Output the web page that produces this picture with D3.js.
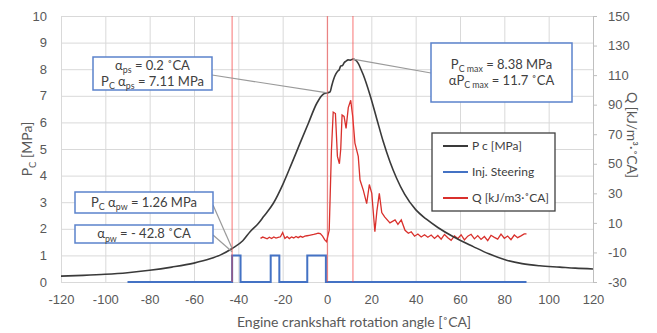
<!DOCTYPE html>
<html>
<head>
<meta charset="utf-8">
<script src="https://cdn.jsdelivr.net/npm/d3@7"></script>
<style>
  body { margin: 0; background: #fff; }
  svg { display: block; font-family: Lato, "Liberation Sans", sans-serif; }
</style>
</head>
<body>
<div id="chart"></div>
<script>
// axis ticks
const angleTicks = [-120, -100, -80, -60, -40, -20, 0, 20, 40, 60, 80, 100, 120];
const pressureTicks = [0, 1, 2, 3, 4, 5, 6, 7, 8, 9, 10];
const heatTicks = [-30, -10, 10, 30, 50, 70, 90, 110, 130, 150];

// cylinder pressure P c [MPa]
const pressureAngle = [-120, -110, -100, -90, -80, -70, -60, -52.8, -48, -42.8, -38, -34.7, -31, -28.7, -24.2, -19.7,
  -15.9, -12.2, -8.4, -4.6, -1.7, 0.2, 1.4, 2.2, 3, 4, 4.8, 5.5, 6.2, 7, 7.8, 8.6, 9.5, 10.5, 11.7, 12.8, 14.1, 15.3,
  16.4, 19.4, 22.4, 25.4, 28.4, 31.4, 35, 40, 45, 50, 57, 66, 73, 81, 88, 96, 105, 112, 120];
const pressureValue = [0.22, 0.25, 0.29, 0.35, 0.44, 0.56, 0.71, 0.87, 1.02, 1.26, 1.55, 1.89, 2.2, 2.45, 2.96, 3.71,
  4.46, 5.21, 5.97, 6.72, 7.06, 7.11, 7.15, 7.4, 7.62, 7.82, 7.92, 7.98, 8.12, 8.14, 8.25, 8.3, 8.35, 8.34, 8.38, 8.35, 8.22, 8.0,
  7.78, 7.03, 6.15, 5.27, 4.52, 3.9, 3.3, 2.72, 2.35, 2.05, 1.7, 1.33, 1.06, 0.82, 0.69, 0.61, 0.56, 0.52, 0.49];

// injection steering signal (0 / 1)
const steeringAngle = [-90, -42.8, -39, -25.4, -21.5, -8.9, -0.5, 90];
const steeringValue = [0, 1, 0, 1, 0, 1, 0, 0];

// heat release rate Q [kJ/m3·˚CA]
const heatAngle = [-30, -29, -28, -27, -26, -25, -24, -23, -22, -21, -20, -19, -18, -17, -16, -15, -14, -13, -12, -11,
  -10, -9, -8, -7, -6, -5, -4, -3, -2, -1, -0.2, 1, 2, 2.8, 3.8, 4.7, 5.6, 6.2, 6.8, 7.7, 8.6, 9.6, 10.7, 11.6, 12.6,
  14.1, 14.9, 16.4, 17.9, 19.1, 20.2, 21.6, 22.5, 23.6, 24.7, 26, 28.4, 30.7, 32, 33.5, 35.2, 36.7, 38, 39.5, 41, 42.5,
  44, 45.5, 47, 48.5, 50, 51.5, 53, 54.5, 56, 57.5, 59, 60.5, 62, 63.5, 65, 66.5, 68, 69.5, 71, 72.5, 74, 75.5, 77,
  78.5, 80, 81.5, 83, 84.5, 86, 87.5, 89, 90];
const heatValue = [-0.5, 0.4, -0.2, -0.8, 0.3, -0.6, 0.5, -0.3, 0.2, 0.6, 3.5, -0.5, 0.7, -0.6, 0.5, -0.2, 0.8, 0.0,
  0.9, 0.3, 1.0, 1.3, 1.6, 1.9, 2.2, 2.6, 3.0, 2.8, 1.0, -1.5, -2.7, 5, 59, 85, 84, 55, 50, 60, 83, 82, 74, 88, 93, 82,
  64, 55, 39, 32, 23, 36, 30, 4, 18, 30, 17, 14, 10, 12, 9, 12, 5, 3, 4, 1, 2.5, 0.5, 2, 0.3, 1.8, -0.5, 1.5, -1, 2.2,
  0, -1.8, 1.2, -0.6, 2, -1.5, 1, 2.3, -0.8, 1.4, -1.2, 0.8, -2, 1.6, 0.2, -1, 2.4, -0.4, 1.1, -1.4, 1.8, 0, 1.2, 2.5, 2.6];

// marked angles (vertical red lines)
const markerAngles = [-42.8, 0.2, 11.7];

const width = 657, height = 333;
const margin = { top: 16, right: 64, bottom: 51, left: 61 };

const svg = d3.select('#chart').append('svg')
  .attr('width', width)
  .attr('height', height);

const x = d3.scaleLinear().domain([-120, 120]).range([margin.left, width - margin.right]);
const yP = d3.scaleLinear().domain([0, 10]).range([height - margin.bottom, margin.top]);
const yQ = d3.scaleLinear().domain([-30, 150]).range([height - margin.bottom, margin.top]);

const textColor = '#595959';
const gridColor = '#d9d9d9';
const plain = d => String(d);

// gridlines
svg.append('g')
  .attr('transform', `translate(0,${height - margin.bottom})`)
  .call(d3.axisBottom(x).tickValues(angleTicks).tickSize(-(height - margin.top - margin.bottom)).tickFormat(''))
  .call(g => g.select('.domain').remove())
  .call(g => g.selectAll('.tick line').attr('stroke', gridColor));

svg.append('g')
  .attr('transform', `translate(${margin.left},0)`)
  .call(d3.axisLeft(yP).tickValues(pressureTicks).tickSize(-(width - margin.left - margin.right)).tickFormat(''))
  .call(g => g.select('.domain').remove())
  .call(g => g.selectAll('.tick line').attr('stroke', gridColor));

// axis labels
svg.append('g')
  .attr('transform', `translate(0,${height - margin.bottom})`)
  .call(d3.axisBottom(x).tickValues(angleTicks).tickSize(0).tickPadding(13).tickFormat(plain))
  .call(g => g.select('.domain').remove())
  .call(g => g.selectAll('text').attr('fill', textColor).style('font-size', '13px'));

svg.append('g')
  .attr('transform', `translate(${margin.left},0)`)
  .call(d3.axisLeft(yP).tickValues(pressureTicks).tickSize(0).tickPadding(14).tickFormat(plain))
  .call(g => g.select('.domain').remove())
  .call(g => g.selectAll('text').attr('fill', textColor).style('font-size', '13px'));

svg.append('g')
  .attr('transform', `translate(${width - margin.right},0)`)
  .call(d3.axisRight(yQ).tickValues(heatTicks).tickSize(4).tickPadding(11).tickFormat(plain))
  .call(g => g.select('.domain').attr('stroke', '#bfbfbf'))
  .call(g => g.selectAll('.tick line').attr('stroke', '#bfbfbf'))
  .call(g => g.selectAll('text').attr('fill', textColor).style('font-size', '13px'));

// text with subscripts: parts given as [str] are drawn as subscript
function richLine(sel, parts, size) {
  let down = false;
  parts.forEach(p => {
    const isSub = Array.isArray(p);
    const t = sel.append('tspan').text(isSub ? p[0] : p);
    if (isSub) {
      t.style('font-size', (size * 0.68) + 'px');
      if (!down) { t.attr('dy', size * 0.28); down = true; }
    } else if (down) {
      t.attr('dy', -size * 0.28); down = false;
    }
  });
  return sel;
}

// axis titles
richLine(svg.append('text')
  .attr('transform', `translate(32,${(margin.top + height - margin.bottom) / 2}) rotate(-90)`)
  .attr('text-anchor', 'middle')
  .attr('fill', textColor)
  .style('font-size', '14px'), ['P', ['C'], ' [MPa]'], 14);

svg.append('text')
  .attr('transform', `translate(627,135) rotate(90)`)
  .attr('text-anchor', 'middle')
  .attr('fill', textColor)
  .style('font-size', '14px')
  .text('Q [kJ/m³·˚CA]');

svg.append('text')
  .attr('x', 354)
  .attr('y', 327)
  .attr('text-anchor', 'middle')
  .attr('fill', textColor)
  .style('font-size', '14px')
  .text('Engine crankshaft rotation angle [˚CA]');

// series
const pressure = pressureAngle.map((a, i) => [a, pressureValue[i]]);
const steering = steeringAngle.map((a, i) => [a, steeringValue[i]]);
const heat = heatAngle.map((a, i) => [a, heatValue[i]]);

svg.append('path')
  .datum(steering)
  .attr('fill', 'none')
  .attr('stroke', '#4472c4')
  .attr('stroke-width', 2)
  .attr('d', d3.line().x(d => x(d[0])).y(d => yP(d[1])).curve(d3.curveStepAfter));

svg.append('path')
  .datum(heat)
  .attr('fill', 'none')
  .attr('stroke', '#d9302c')
  .attr('stroke-width', 1.3)
  .attr('d', d3.line().x(d => x(d[0])).y(d => yQ(d[1])));

svg.append('path')
  .datum(pressure)
  .attr('fill', 'none')
  .attr('stroke', '#3a3a3a')
  .attr('stroke-width', 1.6)
  .attr('d', d3.line().x(d => x(d[0])).y(d => yP(d[1])).curve(d3.curveMonotoneX));

svg.selectAll('.marker')
  .data(markerAngles)
  .enter()
  .append('line')
  .attr('x1', d => x(d)).attr('x2', d => x(d))
  .attr('y1', margin.top).attr('y2', height - margin.bottom)
  .attr('stroke', 'rgba(245,60,60,0.55)')
  .attr('stroke-width', 1.3);

// annotations
const boxes = [
  { x: 93, y: 57, w: 119, h: 33, to: [0.2, 7.11], from: [212, 75],
    lines: [['α', ['ps'], ' = 0.2 ˚CA'], ['P', ['C'], ' α', ['ps'], ' = 7.11 MPa']] },
  { x: 431, y: 43, w: 141, h: 59, to: [11.7, 8.38], from: [431, 73],
    lines: [['P', ['C max'], ' = 8.38 MPa'], ['αP', ['C max'], ' = 11.7 ˚CA']] },
  { x: 75, y: 192, w: 138, h: 21, to: [-42.8, 1.26], from: [213, 205],
    lines: [['P', ['C'], ' α', ['pw'], '  = 1.26 MPa']] },
  { x: 75, y: 225, w: 138, h: 18, to: [-42.8, 1.14], from: [213, 235],
    lines: [['α', ['pw'], ' = - 42.8 ˚CA']] }
];

boxes.forEach(b => {
  svg.append('line')
    .attr('x1', b.from[0]).attr('y1', b.from[1])
    .attr('x2', x(b.to[0])).attr('y2', yP(b.to[1]))
    .attr('stroke', '#9a9a9a')
    .attr('stroke-width', 1.2);
});

boxes.forEach(b => {
  svg.append('rect')
    .attr('x', b.x).attr('y', b.y).attr('width', b.w).attr('height', b.h)
    .attr('fill', '#fff')
    .attr('stroke', '#5b82cc')
    .attr('stroke-width', 1.5);
  const n = b.lines.length;
  b.lines.forEach((ln, i) => {
    const cy = b.y + b.h / 2 + (i - (n - 1) / 2) * 16;
    richLine(svg.append('text')
      .attr('x', b.x + b.w / 2)
      .attr('y', cy + 4)
      .attr('text-anchor', 'middle')
      .attr('fill', '#404040')
      .style('font-size', '13px'), ln, 13);
  });
});

// legend
const legendItems = [
  { label: 'P c [MPa]', color: '#3a3a3a' },
  { label: 'Inj. Steering', color: '#4472c4' },
  { label: 'Q [kJ/m3·˚CA]', color: '#d9302c' }
];

const legend = svg.append('g').attr('transform', 'translate(432,133)');
legend.append('rect')
  .attr('width', 123).attr('height', 78)
  .attr('fill', '#fff')
  .attr('stroke', '#404040')
  .attr('stroke-width', 1.3);

legend.selectAll('g.item')
  .data(legendItems)
  .enter()
  .append('g')
  .attr('transform', (d, i) => `translate(0,${13 + i * 26})`)
  .each(function (d) {
    const g = d3.select(this);
    g.append('line')
      .attr('x1', 11).attr('x2', 36)
      .attr('stroke', d.color)
      .attr('stroke-width', 2);
    g.append('text')
      .attr('x', 40).attr('y', 4)
      .attr('fill', '#404040')
      .style('font-size', '12px')
      .text(d.label);
  });
</script>
</body>
</html>
